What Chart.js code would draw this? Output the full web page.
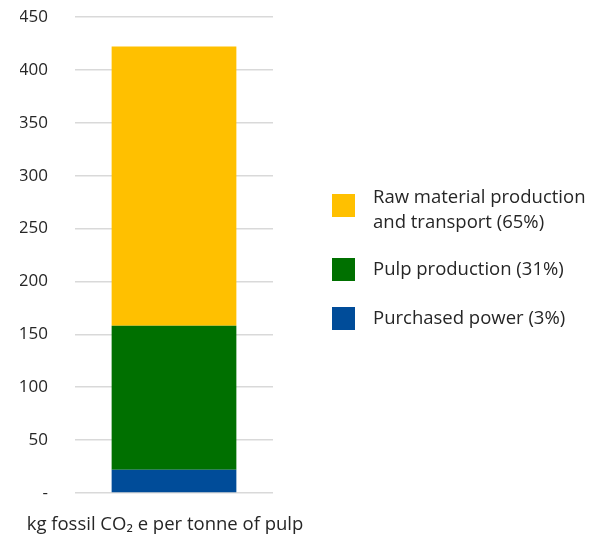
<!DOCTYPE html>
<html>
<head>
<meta charset="utf-8">
<script src="https://cdn.jsdelivr.net/npm/chart.js@4.4.1/dist/chart.umd.min.js"></script>
<style>
  html, body { margin: 0; padding: 0; background: #fff; }
  #wrap { width: 605px; height: 538px; position: relative; }
</style>
</head>
<body>
<div id="wrap"><canvas id="Chart"></canvas></div>
<script>
var categories = ["kg fossil CO\u2082 e per tonne of pulp"];
var seriesLabels = [
  ["Purchased power (3%)"],
  ["Pulp production (31%)"],
  ["Raw material production", "and transport (65%)"],
];
var seriesColors = ["#004C99", "#007000", "#FFC000"];
var dataPower = [22];
var dataPulp = [136];
var dataRaw = [264];
var yTicks = [0, 50, 100, 150, 200, 250, 300, 350, 400, 450];

var FONT = "'Open Sans', sans-serif";
var TEXT = "#262626";

// legend drawn on the right, top item first (reverse of stack order)
var sideLegend = {
  id: "sideLegend",
  afterDraw: function (chart) {
    var ctx = chart.ctx;
    var boxTop = [194, 258, 307];
    ctx.save();
    ctx.font = "18.5px " + FONT;
    ctx.textBaseline = "middle";
    [2, 1, 0].forEach(function (di, i) {
      var ds = chart.data.datasets[di];
      ctx.fillStyle = ds.backgroundColor;
      ctx.fillRect(332, boxTop[i], 23, 23);
      ctx.fillStyle = TEXT;
      var lines = seriesLabels[di];
      var mid = boxTop[i] + 11.5 - (lines.length - 1) * 7.5;
      lines.forEach(function (t, j) {
        ctx.fillText(t, 373, mid + j * 25);
      });
    });
    ctx.restore();
  },
};

var ctx = document.getElementById("Chart").getContext("2d");
new Chart(ctx, {
  type: "bar",
  data: {
    labels: categories,
    datasets: [
      { label: seriesLabels[0].join(" "), data: dataPower, backgroundColor: seriesColors[0] },
      { label: seriesLabels[1].join(" "), data: dataPulp, backgroundColor: seriesColors[1] },
      { label: seriesLabels[2].join(" "), data: dataRaw, backgroundColor: seriesColors[2] },
    ],
  },
  options: {
    animation: false,
    responsive: true,
    maintainAspectRatio: false,
    layout: { padding: { left: 20, right: 332, top: 17, bottom: 0 } },
    datasets: { bar: { barPercentage: 0.63, categoryPercentage: 1 } },
    scales: {
      x: {
        stacked: true,
        grid: { display: false },
        border: { display: false },
        afterFit: function (axis) {
          axis.paddingLeft = 0;
          axis.paddingRight = 0;
          axis.height = 45;
        },
        ticks: {
          color: TEXT,
          padding: 13,
          maxRotation: 0,
          minRotation: 0,
          autoSkip: false,
          labelOffset: -9,
          font: { size: 18.5, family: FONT },
        },
      },
      y: {
        stacked: true,
        min: 0,
        max: 450,
        afterBuildTicks: function (axis) {
          axis.ticks = yTicks.map(function (v) { return { value: v }; });
        },
        afterFit: function (axis) {
          axis.width = 55;
          axis.paddingTop = 0;
          axis.paddingBottom = 0;
        },
        grid: { color: "#D9D9D9", lineWidth: 1.5, drawTicks: false },
        border: { display: false },
        ticks: {
          color: TEXT,
          padding: 27,
          font: { size: 17, family: FONT },
          callback: function (v) { return v === 0 ? "-" : v; },
        },
      },
    },
    plugins: {
      legend: { display: false },
      tooltip: { enabled: false },
    },
  },
  plugins: [sideLegend],
});
</script>
</body>
</html>
